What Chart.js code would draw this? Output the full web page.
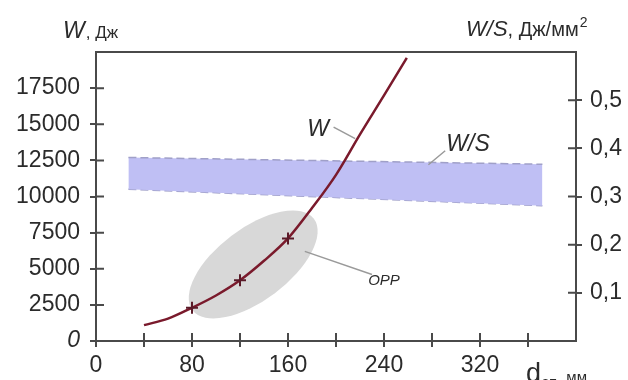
<!DOCTYPE html>
<html>
<head>
<meta charset="utf-8">
<script src="https://cdn.jsdelivr.net/npm/chart.js@4"></script>
<style>
    html, body { margin: 0; padding: 0; background: #fff; }
    #wrap { width: 628px; height: 380px; }
</style>
</head>
<body>
<div id="wrap"><canvas id="energyChart"></canvas></div>
<script>
// диаметр заготовки, мм -> энергия W, Дж
const dValues = [40, 60, 80, 100, 120, 140, 160, 180, 200, 220, 240, 259];
const wValues = [1100, 1550, 2300, 3150, 4200, 5550, 7100, 9200, 11500, 14300, 17000, 19600];

// отмеченные точки на кривой
const markD = [80, 120, 160];
const markW = [2300, 4200, 7100];

// полоса W/S (правая ось)
const bandD = [27, 372];
const bandTop = [0.381, 0.367];
const bandBottom = [0.315, 0.281];

// подписи осей
const xLabeled = [0, 80, 160, 240, 320];
const yRightLabeled = [0.1, 0.2, 0.3, 0.4, 0.5];

const axisColor = '#4a4a4a';
const textColor = '#2b2b2b';
const fontFamily = '"Liberation Sans", Arial, sans-serif';

const toPts = (xs, ys) => xs.map((x, i) => ({ x: x, y: ys[i] }));

// рамка, внутренние засечки, эллипс ОРР и подписи
const decorPlugin = {
    id: 'decor',
    beforeDatasetsDraw(chart) {
        const { ctx, scales } = chart;
        const cx = scales.x.getPixelForValue(131);
        const cy = scales.y.getPixelForValue(5300);
        ctx.save();
        ctx.fillStyle = '#d8d8d8';
        ctx.beginPath();
        ctx.ellipse(cx, cy, 76, 36, -37 * Math.PI / 180, 0, Math.PI * 2);
        ctx.fill();
        ctx.restore();
    },
    afterDraw(chart) {
        const { ctx, chartArea: a, scales } = chart;
        ctx.save();
        ctx.strokeStyle = axisColor;
        ctx.lineWidth = 2;
        ctx.beginPath();
        ctx.moveTo(a.left - 1, a.top);
        ctx.lineTo(a.right + 1, a.top);
        // засечки внутрь
        for (let v = 40; v < 400; v += 40) {
            const px = scales.x.getPixelForValue(v);
            ctx.moveTo(px, a.bottom);
            ctx.lineTo(px, a.bottom - 8);
        }
        for (let v = 2500; v < 20000; v += 2500) {
            const py = scales.y.getPixelForValue(v);
            ctx.moveTo(a.left, py);
            ctx.lineTo(a.left + 8, py);
        }
        yRightLabeled.forEach(v => {
            const py = scales.y2.getPixelForValue(v);
            ctx.moveTo(a.right, py);
            ctx.lineTo(a.right - 8, py);
        });
        ctx.stroke();

        // выноски
        ctx.strokeStyle = '#9a9a9a';
        ctx.lineWidth = 1.5;
        ctx.beginPath();
        ctx.moveTo(scales.x.getPixelForValue(198), scales.y.getPixelForValue(14800));
        ctx.lineTo(scales.x.getPixelForValue(216), scales.y.getPixelForValue(14000));
        ctx.moveTo(scales.x.getPixelForValue(291), scales.y2.getPixelForValue(0.395));
        ctx.lineTo(scales.x.getPixelForValue(277), scales.y2.getPixelForValue(0.366));
        ctx.moveTo(scales.x.getPixelForValue(174), scales.y.getPixelForValue(6200));
        ctx.lineTo(scales.x.getPixelForValue(230), scales.y.getPixelForValue(4600));
        ctx.stroke();

        ctx.fillStyle = textColor;
        ctx.textBaseline = 'alphabetic';
        ctx.textAlign = 'center';
        ctx.font = 'italic 23px ' + fontFamily;
        ctx.fillText('W', scales.x.getPixelForValue(185), scales.y.getPixelForValue(14200));
        ctx.fillText('W/S', scales.x.getPixelForValue(310), scales.y2.getPixelForValue(0.395));
        ctx.font = 'italic 15px ' + fontFamily;
        ctx.fillText('OPP', scales.x.getPixelForValue(240), scales.y.getPixelForValue(3900));

        // заголовки осей
        ctx.textAlign = 'left';
        ctx.font = 'italic 23px ' + fontFamily;
        ctx.fillText('W', 63, 38);
        let w = ctx.measureText('W').width;
        ctx.font = '17px ' + fontFamily;
        ctx.fillText(', Дж', 63 + w + 1, 38);

        ctx.font = 'italic 22px ' + fontFamily;
        ctx.fillText('W/S', 466, 36);
        w = ctx.measureText('W/S').width;
        ctx.font = '20px ' + fontFamily;
        ctx.fillText(', Дж/мм', 466 + w, 36);
        const w2 = ctx.measureText(', Дж/мм').width;
        ctx.font = '14px ' + fontFamily;
        ctx.fillText('2', 466 + w + w2 + 1, 27);

        ctx.font = '27px ' + fontFamily;
        ctx.fillText('d', 526, 382);
        w = ctx.measureText('d').width;
        ctx.font = '15px ' + fontFamily;
        ctx.fillText('зп', 526 + w + 1, 387);
        const w3 = ctx.measureText('зп').width;
        ctx.fillText(', мм', 526 + w + w3 + 2, 382);
        ctx.restore();
    }
};

const ctx = document.getElementById('energyChart').getContext('2d');
const energyChart = new Chart(ctx, {
    type: 'line',
    data: {
        datasets: [
            {
                label: 'marks',
                data: toPts(markD, markW),
                showLine: false,
                pointStyle: 'cross',
                pointRadius: 6,
                pointBorderWidth: 2,
                pointBorderColor: '#5a1a28',
                yAxisID: 'y',
                order: 0
            },
            {
                label: 'W',
                data: toPts(dValues, wValues),
                borderColor: '#7a1a2c',
                borderWidth: 2.5,
                pointRadius: 0,
                cubicInterpolationMode: 'monotone',
                fill: false,
                yAxisID: 'y',
                order: 1
            },
            {
                label: 'W/S top',
                data: toPts(bandD, bandTop),
                borderColor: '#a0a0c8',
                borderWidth: 1.5,
                borderDash: [8, 4],
                pointRadius: 0,
                backgroundColor: '#bfbff4',
                fill: '+1',
                yAxisID: 'y2',
                order: 3
            },
            {
                label: 'W/S bottom',
                data: toPts(bandD, bandBottom),
                borderColor: '#a0a0c8',
                borderWidth: 1.5,
                borderDash: [8, 4],
                pointRadius: 0,
                fill: false,
                yAxisID: 'y2',
                order: 4
            }
        ]
    },
    options: {
        responsive: true,
        maintainAspectRatio: false,
        animation: false,
        layout: {
            padding: { top: 52, left: 0, right: 0, bottom: 0 }
        },
        plugins: {
            legend: { display: false },
            tooltip: { enabled: false }
        },
        scales: {
            x: {
                type: 'linear',
                min: 0,
                max: 400,
                border: { color: axisColor, width: 2 },
                grid: {
                    drawOnChartArea: false,
                    tickLength: 6,
                    lineWidth: 2,
                    tickColor: ctx => (ctx.tick && ctx.tick.value < 400) ? axisColor : 'rgba(0,0,0,0)'
                },
                ticks: {
                    stepSize: 40,
                    autoSkip: false,
                    maxRotation: 0,
                    padding: 5,
                    color: textColor,
                    font: { family: fontFamily, size: 23 },
                    callback: v => xLabeled.includes(v) ? v : ''
                },
                afterFit: scale => { scale.height = 39; }
            },
            y: {
                type: 'linear',
                position: 'left',
                min: 0,
                max: 20000,
                border: { color: axisColor, width: 2 },
                grid: {
                    drawOnChartArea: false,
                    tickLength: 6,
                    lineWidth: 2,
                    tickColor: ctx => (ctx.tick && ctx.tick.value < 20000) ? axisColor : 'rgba(0,0,0,0)'
                },
                ticks: {
                    stepSize: 2500,
                    autoSkip: false,
                    padding: 10,
                    color: textColor,
                    font: ctx => ({
                        family: fontFamily,
                        size: 23,
                        style: (ctx.tick && ctx.tick.value === 0) ? 'italic' : 'normal'
                    }),
                    callback: v => v < 20000 ? v : ''
                },
                afterFit: scale => { scale.width = 96; }
            },
            y2: {
                type: 'linear',
                position: 'right',
                min: 0,
                max: 0.6,
                border: { color: axisColor, width: 2 },
                grid: {
                    drawOnChartArea: false,
                    tickLength: 6,
                    lineWidth: 2,
                    tickColor: ctx => (ctx.tick && ctx.tick.value > 0.05 && ctx.tick.value < 0.55) ? axisColor : 'rgba(0,0,0,0)'
                },
                ticks: {
                    stepSize: 0.1,
                    autoSkip: false,
                    padding: 8,
                    color: textColor,
                    font: { family: fontFamily, size: 23 },
                    callback: v => (v > 0.05 && v < 0.55) ? v.toFixed(1).replace('.', ',') : ''
                },
                afterFit: scale => { scale.width = 52; }
            }
        }
    },
    plugins: [decorPlugin]
});
</script>
</body>
</html>
